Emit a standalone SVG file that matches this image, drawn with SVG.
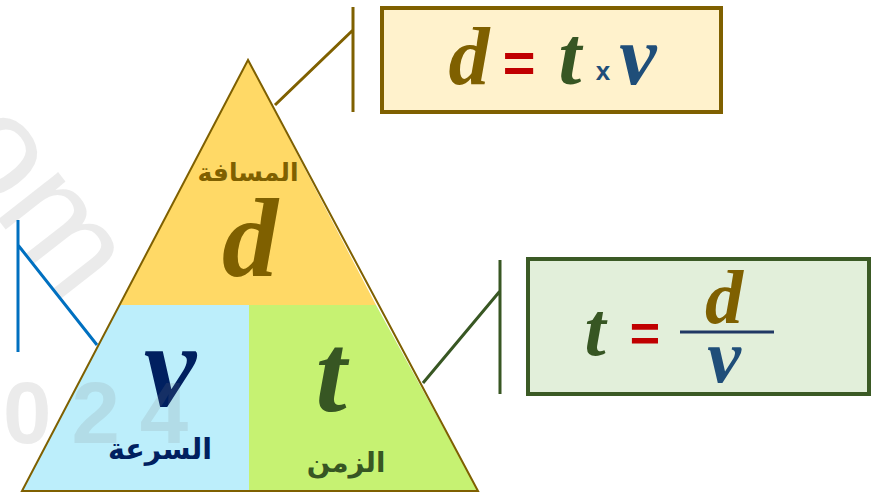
<svg xmlns="http://www.w3.org/2000/svg" width="881" height="492" viewBox="0 0 881 492">
<style>
.m{font-family:"Liberation Serif","DejaVu Serif",serif;font-weight:bold;font-style:italic;text-anchor:middle}
.ar{font-family:"DejaVu Sans","Noto Sans",sans-serif;font-weight:bold;text-anchor:middle}
.eq{font-family:"Liberation Sans",Arial,sans-serif;font-weight:bold;fill:#C00000;text-anchor:middle}
.wm{font-family:"Liberation Sans",Arial,sans-serif;fill:#808080;fill-opacity:0.16}
.gold{fill:#7F6000}
.grn{fill:#375623}
.navy{fill:#002060}
.blu{fill:#1F4E79}
</style>
<rect width="881" height="492" fill="#FFFFFF"/>
<g id="watermark">
<text class="wm" x="0" y="0" font-size="145" transform="translate(-58,148) rotate(52)">om</text>
</g>
<g id="triangle">
<g id="section-d">
<polygon points="248,60 120,305 376,305" fill="#FFD966"/>
<text class="ar gold" x="248" y="181" font-size="25">المسافة</text>
<text class="m gold" x="250" y="276" font-size="112">d</text>
</g>
<g id="section-v">
<polygon points="120,305 249,305 249,491 22,491" fill="#BCEEFB"/>
<text class="m navy" x="170" y="406" font-size="118">v</text>
<text class="ar navy" x="160" y="459" font-size="28.5">السرعة</text>
</g>
<g id="section-t">
<polygon points="249,305 376,305 478,491 249,491" fill="#C6F272"/>
<text class="m grn" x="331" y="411" font-size="112">t</text>
<text class="ar grn" x="346" y="472" font-size="27.5">الزمن</text>
</g>
<polygon points="248,60 22,491 478,491" fill="none" stroke="#7F6000" stroke-width="2" stroke-linejoin="miter"/>
</g>
<g id="watermark2">
<text class="wm" x="3" y="443" font-size="87" font-weight="bold" letter-spacing="20">024</text>
</g>
<g id="connectors" fill="none" stroke-width="3">
<path d="M353,7 V112 M353,30 L275,105" stroke="#7F6000"/>
<path d="M500,260 V394 M500,291 L423,383" stroke="#385723"/>
<path d="M18,220 V352 M18,245 L97,345" stroke="#0070C0"/>
</g>
<g id="box-d">
<rect x="382" y="8" width="339" height="104" fill="#FFF2CC" stroke="#7F6000" stroke-width="4"/>
<text class="m gold" x="469" y="84" font-size="82">d</text>
<text class="eq" x="519" y="82" font-size="56">=</text>
<text class="m grn" x="570" y="84" font-size="82">t</text>
<text x="603" y="80" font-family="Liberation Sans,Arial,sans-serif" font-weight="bold" font-size="26" fill="#1F4E79" text-anchor="middle">x</text>
<text class="m blu" x="638" y="84" font-size="84">v</text>
</g>
<g id="box-t">
<rect x="528" y="259" width="341" height="135" fill="#E2EFDA" stroke="#3B5A25" stroke-width="4"/>
<text class="m grn" x="595" y="355" font-size="76">t</text>
<text class="eq" x="645" y="351" font-size="52">=</text>
<line x1="680" y1="332" x2="774" y2="332" stroke="#203864" stroke-width="3"/>
<text class="m gold" x="724" y="323" font-size="76">d</text>
<text class="m blu" x="724" y="382" font-size="76">v</text>
</g>
</svg>
